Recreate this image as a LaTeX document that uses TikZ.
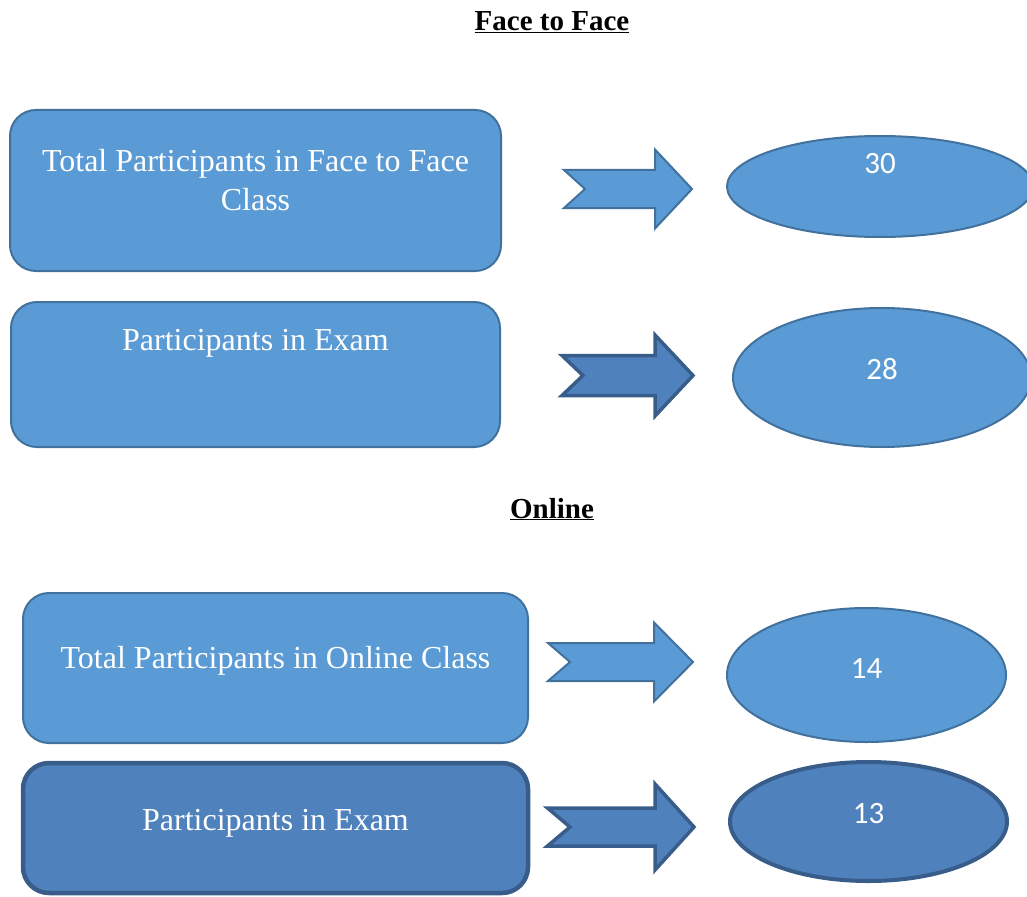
\documentclass[tikz,border=0pt]{standalone}
\usepackage{fontspec}
\setmainfont{Liberation Serif}
\newfontfamily\numfont{Carlito}
\usetikzlibrary{shapes.geometric}
\definecolor{lfill}{HTML}{5B9BD5}
\definecolor{lline}{HTML}{41719C}
\definecolor{dfill}{HTML}{4F81BD}
\definecolor{dline}{HTML}{385D8A}
\newcommand\blockarr[8]{% style, left x, mid y, notch x, shaft end x, tip x, shaft half, head half
  \draw[#1] (#2,{#3-#7}) -- (#5,{#3-#7}) -- (#5,{#3-#8}) -- (#6,#3) -- (#5,{#3+#8}) -- (#5,{#3+#7}) -- (#2,{#3+#7}) -- (#4,#3) -- cycle;}
\tikzset{
  lbox/.style={draw=lline, fill=lfill, line width=2pt, rounded corners=26pt, inner sep=0pt},
  dbox/.style={draw=dline, fill=dfill, line width=4.5pt, rounded corners=26pt, inner sep=0pt},
  lell/.style={ellipse, draw=lline, fill=lfill, line width=2pt, inner sep=0pt},
  dell/.style={ellipse, draw=dline, fill=dfill, line width=4pt, inner sep=0pt},
  larrow/.style={draw=lline, fill=lfill, line width=2pt, line join=miter},
  darrow/.style={draw=dline, fill=dfill, line width=3.5pt, line join=miter},
  boxtext/.style={text=white, font=\fontsize{32}{38.4}\selectfont, anchor=base, inner sep=0pt, align=center},
  numtext/.style={text=white, font=\numfont\fontsize{31}{37}\selectfont, anchor=base, inner sep=0pt},
  title/.style={text=black, font=\fontsize{29}{35}\selectfont\bfseries, anchor=base, inner sep=0pt}
}
\begin{document}
\begin{tikzpicture}[x=1pt,y=-1pt]
\useasboundingbox (0,0) rectangle (1027,896);

% titles
\node[title] (t1) at (552,30.5) {\underline{Face to Face}};
\node[title] (t2) at (552,518) {\underline{Online}};

% boxes
\node[lbox, minimum width=491pt, minimum height=161pt] (b1) at (255.5,190.5) {};
\node[lbox, minimum width=489pt, minimum height=145pt] (b2) at (255.5,374.5) {};
\node[lbox, minimum width=505pt, minimum height=150pt] (b3) at (275.5,668) {};
\node[dbox, minimum width=505pt, minimum height=130pt] (b4) at (275.5,828) {};

\node[boxtext] (bt1) at (255.5,210) {Total Participants in Face to Face\\Class};
\node[boxtext] (bt2) at (255.5,350) {Participants in Exam};
\node[boxtext] (bt3) at (275.5,668) {Total Participants in Online Class};
\node[boxtext] (bt4) at (275.5,830) {Participants in Exam};

% arrows
\blockarr{larrow}{564}{189}{585}{655}{692}{19}{39.5}
\blockarr{darrow}{562}{375.5}{583}{655}{693}{20}{40.5}
\blockarr{larrow}{548}{662}{570}{654}{693}{19}{39.5}
\blockarr{darrow}{547.5}{827}{570}{655}{694}{19}{43}

% ellipses
\node[lell, minimum width=306pt, minimum height=101pt] (e1) at (880,186.5) {};
\node[lell, minimum width=298pt, minimum height=139pt] (e2) at (882,377.5) {};
\node[lell, minimum width=279pt, minimum height=134pt] (e3) at (866.5,675) {};
\node[dell, minimum width=277pt, minimum height=119pt] (e4) at (868.5,821.5) {};

\node[numtext] (n1) at (880,174) {30};
\node[numtext] (n2) at (882,379) {28};
\node[numtext] (n3) at (866.5,678) {14};
\node[numtext] (n4) at (868.5,823) {13};
\end{tikzpicture}
\end{document}
